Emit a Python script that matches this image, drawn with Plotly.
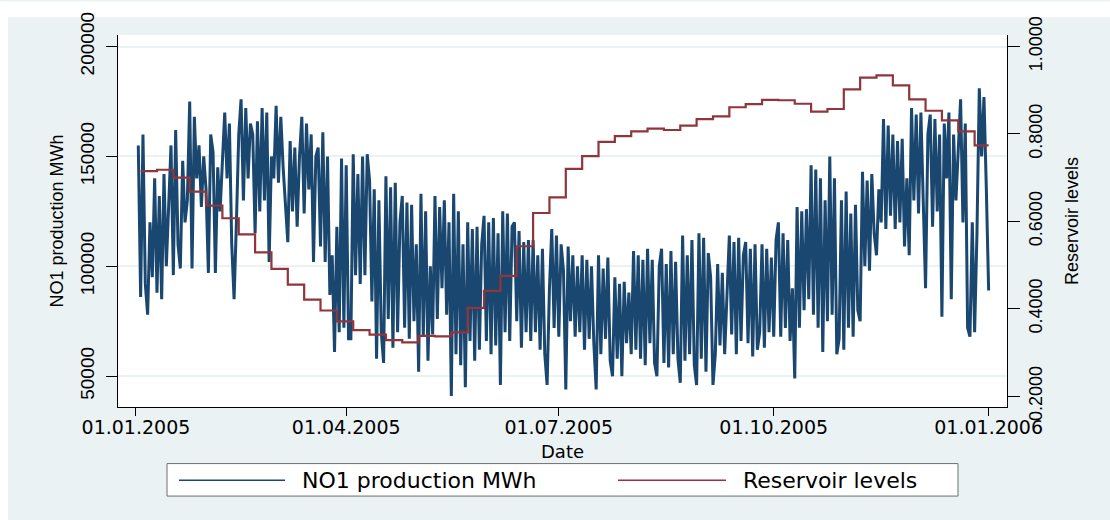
import pandas as pd
import plotly.graph_objects as go

# ---------------- data ----------------
# Daily NO1 production (thousand MWh), 2005-01-02 .. 2006-01-01
production_kmwh = [
    155, 86, 160, 92, 78, 120, 95,
    140, 88, 132, 85, 142, 100, 125,
    155, 96, 162, 110, 99, 148, 120,
    130, 175, 99, 168, 140, 155, 127,
    150, 135, 97, 160, 152, 97, 145,
    125, 150, 170, 140, 165, 110, 85,
    120, 160, 176, 130, 172, 140, 165,
    160, 115, 166, 125, 172, 130, 170,
    102, 150, 140, 173, 138, 168, 145,
    130, 111, 157, 125, 154, 118, 150,
    168, 124, 165, 135, 160, 102, 150,
    154, 109, 161, 102, 150, 87, 105,
    61, 118, 70, 149, 72, 146, 67,
    67, 151, 96, 142, 92, 150, 96,
    151, 139, 84, 135, 58, 130, 70,
    56, 141, 76, 136, 63, 138, 70,
    120, 132, 72, 129, 67, 128, 75,
    110, 52, 133, 68, 125, 57, 100,
    69, 132, 76, 127, 90, 130, 78,
    120, 41, 133, 60, 125, 55, 110,
    45, 120, 66, 117, 57, 118, 62,
    110, 123, 66, 120, 60, 122, 64,
    115, 46, 125, 70, 124, 66, 118,
    120, 75, 116, 63, 111, 70, 112,
    66, 112, 70, 105, 62, 108, 60,
    46, 90, 117, 72, 114, 68, 110,
    98, 44, 109, 75, 105, 68, 100,
    70, 105, 62, 103, 67, 100, 65,
    44, 105, 60, 99, 67, 104, 57,
    50, 95, 58, 92, 50, 93, 65,
    88, 60, 107, 62, 105, 58, 103,
    55, 108, 65, 103, 56, 50, 100,
    108, 56, 101, 54, 107, 60, 102,
    58, 47, 114, 57, 105, 60, 112,
    55, 46, 115, 58, 113, 52, 106,
    95, 46, 60, 101, 64, 97, 60,
    88, 114, 69, 111, 60, 113, 66,
    105, 111, 65, 108, 59, 110, 62,
    70, 110, 63, 108, 70, 104, 68,
    112, 120, 68, 115, 72, 112, 66,
    90, 49, 127, 72, 125, 80, 126,
    85, 146, 78, 144, 72, 140, 61,
    130, 75, 150, 78, 140, 60, 67,
    130, 62, 134, 72, 124, 68, 128,
    80, 75, 143, 100, 139, 98, 142,
    115, 105, 135, 120, 167, 117, 164,
    123, 160, 117, 157, 120, 158, 109,
    140, 105, 172, 130, 169, 124, 170,
    130, 90, 160, 169, 118, 167, 125,
    160, 77, 165, 140, 170, 85, 160,
    130, 150, 176, 120, 165, 72, 68,
    120, 70, 115, 181, 150, 177, 136,
    89,
]
production_start = "2005-01-02"

# Weekly reservoir levels (share of capacity), one value per Monday from 2005-01-03
reservoir_levels = [
    0.715, 0.718, 0.700, 0.668, 0.636, 0.607, 0.570, 0.529, 0.491, 0.455,
    0.421, 0.396, 0.371, 0.351, 0.341, 0.328, 0.323, 0.338, 0.337, 0.346,
    0.402, 0.441, 0.475, 0.543, 0.619, 0.655, 0.720, 0.749, 0.782, 0.795,
    0.806, 0.812, 0.809, 0.819, 0.834, 0.840, 0.861, 0.868, 0.878, 0.877,
    0.869, 0.851, 0.857, 0.902, 0.929, 0.934, 0.911, 0.879, 0.853, 0.831,
    0.806, 0.774,
]
reservoir_start = "2005-01-03"
reservoir_end = "2006-01-01"

x_tick_dates = ["2005-01-01", "2005-04-01", "2005-07-01", "2005-10-01", "2006-01-01"]
x_tick_labels = ["01.01.2005", "01.04.2005", "01.07.2005", "01.10.2005", "01.01.2006"]
left_ticks = [50000, 100000, 150000, 200000]
left_tick_labels = ["50000", "100000", "150000", "200000"]
right_ticks = [0.2, 0.4, 0.6, 0.8, 1.0]
right_tick_labels = ["0.2000", "0.4000", "0.6000", "0.8000", "1.0000"]

# ---------------- build ----------------
prod_dates = pd.date_range(production_start, periods=len(production_kmwh), freq="D")
prod_values = [v * 1000 for v in production_kmwh]
res_dates = list(pd.date_range(reservoir_start, periods=len(reservoir_levels), freq="7D"))
res_dates.append(pd.Timestamp(reservoir_end))
res_values = reservoir_levels + [reservoir_levels[-1]]

NAVY = "#1A476F"
MAROON = "#90353B"
BG = "#EAF2F3"

fig = go.Figure()
fig.add_trace(go.Scatter(x=prod_dates, y=prod_values, mode="lines", name="NO1 production MWh",
                         line=dict(color=NAVY, width=3), showlegend=False))
fig.add_trace(go.Scatter(x=res_dates, y=res_values, mode="lines", name="Reservoir levels",
                         line=dict(color=MAROON, width=2.2, shape="hv"), yaxis="y2", showlegend=False))

W, H = 1110, 520
L, R, T, B = 118, 103, 29, 113
pw, ph = W - L - R, H - T - B

def px(x):
    return (x - L) / pw

def py(y):
    return (H - B - y) / ph

fig.update_layout(
    width=W, height=H, autosize=False,
    margin=dict(l=L, r=R, t=T, b=B, pad=0),
    paper_bgcolor=BG, plot_bgcolor="white",
    font=dict(family="Liberation Sans, Arial, sans-serif", color="#000000"),
    xaxis=dict(
        range=["2004-12-24 07:30", "2006-01-08 20:40"],
        tickvals=x_tick_dates, ticktext=x_tick_labels,
        tickfont=dict(family="DejaVu Sans", size=19, color="#000000"),
        ticks="outside", ticklen=8, tickcolor="#000000", tickwidth=1,
        ticklabelstandoff=-5,
        showline=True, linecolor="#000000", linewidth=1,
        showgrid=False, zeroline=False,
    ),
    yaxis=dict(
        range=[35985, 205240],
        tickvals=left_ticks, ticktext=left_tick_labels, tickangle=-90,
        tickfont=dict(size=19, color="#000000"),
        ticks="outside", ticklen=11, tickcolor="#000000", tickwidth=1,
        ticklabelstandoff=4,
        showline=True, linecolor="#000000", linewidth=1,
        showgrid=True, gridcolor=BG, gridwidth=1.5, zeroline=False,
        title=dict(text="NO1 production MWh", font=dict(size=18, color="#000000"), standoff=9),
    ),
    yaxis2=dict(
        overlaying="y", side="right",
        range=[0.1752, 1.0263],
        tickvals=right_ticks, ticktext=right_tick_labels, tickangle=-90,
        tickfont=dict(size=18, color="#000000"),
        ticks="outside", ticklen=12, tickcolor="#000000", tickwidth=1,
        showline=True, linecolor="#000000", linewidth=1,
        showgrid=False, zeroline=False,
        title=dict(text="Reservoir levels", font=dict(size=18, color="#000000"), standoff=20),
    ),
    shapes=[
        # white outer border strips
        dict(type="rect", xref="paper", yref="paper", x0=-0.3, x1=1.3, y0=py(11), y1=py(-5),
             fillcolor="white", line=dict(width=0), layer="below"),
        dict(type="rect", xref="paper", yref="paper", x0=px(-5), x1=px(8), y0=py(525), y1=py(-5),
             fillcolor="white", line=dict(width=0), layer="below"),
        # legend box
        dict(type="rect", xref="paper", yref="paper", x0=px(167), x1=px(958), y0=py(497.5), y1=py(464.5),
             fillcolor="white", line=dict(color="#6E6E6E", width=1)),
        dict(type="line", xref="paper", yref="paper", x0=px(179), x1=px(285), y0=py(481.5), y1=py(481.5),
             line=dict(color=NAVY, width=1.4)),
        dict(type="line", xref="paper", yref="paper", x0=px(618), x1=px(726), y0=py(481.5), y1=py(481.5),
             line=dict(color=MAROON, width=1.4)),
    ],
    annotations=[
        dict(text="Date", xref="paper", yref="paper", x=0.5, y=py(452),
             xanchor="center", yanchor="middle", showarrow=False,
             font=dict(family="DejaVu Sans", size=18, color="#000000")),
        dict(text="NO1 production MWh", xref="paper", yref="paper", x=px(300), y=py(481.5),
             xanchor="left", yanchor="middle", showarrow=False,
             font=dict(family="DejaVu Sans", size=22, color="#000000")),
        dict(text="Reservoir levels", xref="paper", yref="paper", x=px(741), y=py(481.5),
             xanchor="left", yanchor="middle", showarrow=False,
             font=dict(family="DejaVu Sans", size=22, color="#000000")),
    ],
)

fig.write_html("out.html")
